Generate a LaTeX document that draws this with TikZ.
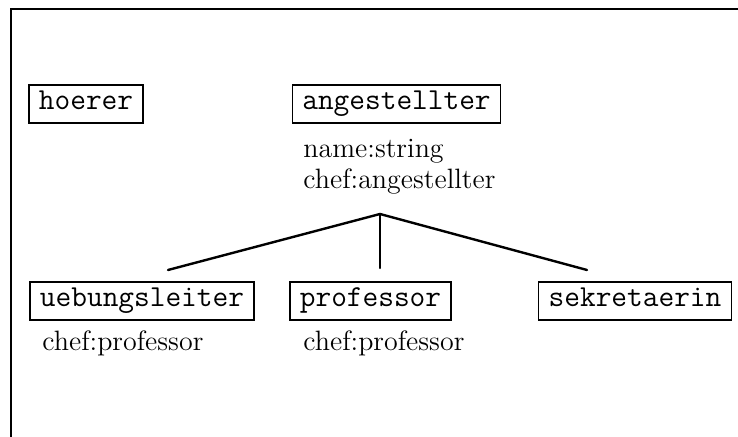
\documentclass[tikz,border=0pt]{standalone}
\tikzset{
  cls/.style={draw, line width=0.8pt, inner xsep=5pt, inner ysep=0pt,
    minimum height=19pt, text height=9pt, text depth=3pt,
    font=\fontsize{15.24}{18}\selectfont\ttfamily},
  attr/.style={anchor=base west, inner sep=0pt,
    font=\fontsize{14}{17}\selectfont},
  link/.style={line width=1.2pt, line cap=round},
  frame/.style={line width=1pt}
}
\begin{document}
\begin{tikzpicture}[x=0.5pt, y=-0.5pt]
  \useasboundingbox (0,0) rectangle (738,437);
  % outer frame (top and left edges only)
  \draw[frame] (738,9) -- (11,9) -- (11,437);

  % classes
  \node[cls] (hoerer)        at (86,104)    {hoerer};
  \node[cls] (angestellter)  at (396.5,104) {angestellter};
  \node[cls] (uebungsleiter) at (142,301)   {uebungsleiter};
  \node[cls] (professor)     at (370.5,301) {professor};
  \node[cls] (sekretaerin)   at (635,301)   {sekretaerin};

  % attributes
  \node[attr] (a1) at (303,158) {name:string};
  \node[attr] (a2) at (303,189) {chef:angestellter};
  \node[attr] (u1) at (42,351)  {chef:professor};
  \node[attr] (p1) at (303,351) {chef:professor};

  % inheritance fork
  \coordinate (apex) at (380,214);
  \coordinate (lend) at (168,270);
  \coordinate (mend) at (380,268);
  \coordinate (rend) at (587,270);
  \draw[link] (apex) -- (lend);
  \draw[link] (apex) -- (mend);
  \draw[link] (apex) -- (rend);
\end{tikzpicture}
\end{document}
